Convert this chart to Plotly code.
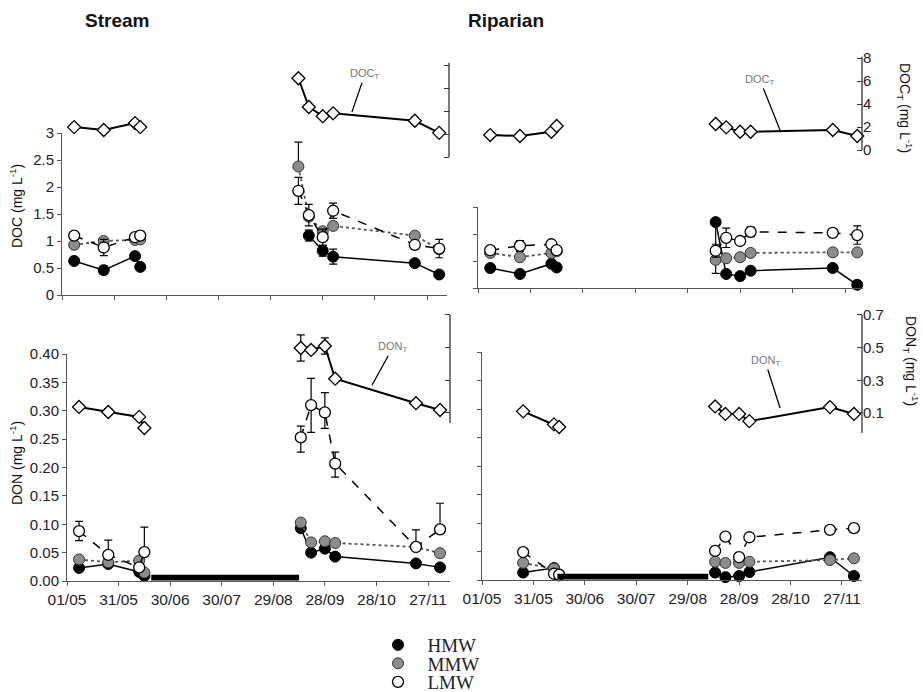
import plotly.graph_objects as go
import pandas as pd

# ---------------- data ----------------
dates = ["2008-05-08", "2008-05-25", "2008-06-12", "2008-06-15", "2008-09-14",
         "2008-09-20", "2008-09-28", "2008-10-04", "2008-11-20", "2008-12-04"]
tick_dates = ["2008-05-01", "2008-05-31", "2008-06-30", "2008-07-30",
              "2008-08-29", "2008-09-28", "2008-10-28", "2008-11-27"]
tick_text = ["01/05", "31/05", "30/06", "30/07", "29/08", "28/09", "28/10", "27/11"]

# Stream DOC (mg/L)
s_doc_hmw = [0.63, 0.46, 0.72, 0.52, None, 1.10, 0.82, 0.71, 0.59, 0.38]
s_doc_mmw = [0.93, 1.00, 1.02, 1.03, 2.38, 1.45, 1.18, 1.28, 1.10, 0.85]
s_doc_lmw = [1.10, 0.88, 1.07, 1.10, 1.93, 1.48, 1.07, 1.56, 0.93, 0.86]
s_doc_t = [2.60, 2.35, 2.95, 2.60, 6.85, 4.35, 3.55, 3.80, 3.15, 2.10]
s_doc_hmw_err = [0, 0.08, 0, 0, 0, 0.10, 0.10, 0.14, 0.05, 0]
s_doc_mmw_err = [0, 0, 0, 0, 0.45, 0, 0, 0, 0, 0]
s_doc_lmw_err = [0, 0.15, 0, 0.08, 0.25, 0.20, 0.15, 0.14, 0.05, 0.17]

# Riparian DOC (mg/L)
r_doc_hmw = [0.37, 0.26, 0.45, 0.38, 1.22, 0.26, 0.22, 0.32, 0.37, 0.06]
r_doc_mmw = [0.65, 0.57, 0.65, 0.68, 0.52, 0.55, 0.57, 0.65, 0.66, 0.66]
r_doc_lmw = [0.70, 0.78, 0.81, 0.70, 0.69, 0.93, 0.87, 1.04, 1.02, 0.98]
r_doc_t = [1.30, 1.22, 1.58, 2.09, 2.26, 1.97, 1.59, 1.59, 1.74, 1.22]
r_doc_hmw_err_minus = [0, 0, 0, 0, 0.95, 0, 0, 0, 0, 0]
r_doc_lmw_err = [0, 0.10, 0.05, 0.05, 0.12, 0.18, 0.05, 0.09, 0, 0.17]

# Stream DON (mg/L)
s_don_hmw = [0.023, 0.030, 0.016, 0.009, 0.093, 0.050, 0.057, 0.043, 0.031, 0.024]
s_don_mmw = [0.038, 0.033, 0.036, 0.015, 0.103, 0.068, 0.070, 0.067, 0.060, 0.049]
s_don_lmw = [0.088, 0.046, 0.024, 0.051, 0.253, 0.310, 0.297, 0.207, 0.060, 0.091]
s_don_t = [0.137, 0.106, 0.076, 0.008, 0.498, 0.486, 0.510, 0.310, 0.160, 0.118]
s_don_lmw_err_plus = [0.017, 0.026, 0, 0.044, 0.020, 0.047, 0.035, 0.020, 0.030, 0.046]
s_don_lmw_err_minus = [0.017, 0, 0, 0, 0.026, 0.048, 0.028, 0.024, 0, 0]
s_don_t_err = [0, 0.02, 0, 0, 0.08, 0.02, 0.05, 0, 0, 0]

# Riparian DON (mg/L)
r_don_hmw = [None, 0.013, 0.021, 0.008, 0.013, 0.005, 0.007, 0.014, 0.040, 0.007]
r_don_mmw = [None, 0.030, 0.020, 0.010, 0.032, 0.030, 0.030, 0.032, 0.035, 0.038]
r_don_lmw = [None, 0.049, 0.011, 0.009, 0.051, 0.076, 0.040, 0.075, 0.088, 0.091]
r_don_t = [None, 0.110, 0.030, 0.014, 0.140, 0.094, 0.094, 0.050, 0.136, 0.094]

# dry periods (black bars)
dry_stream = ["2008-06-19", "2008-09-13"]
dry_riparian = ["2008-06-14", "2008-09-10"]

fractions = ["HMW", "MMW", "LMW"]

# ---------------- helpers ----------------
W, H = 923, 692
def px(x): return x / W
def py(y): return 1 - y / H

START = pd.Timestamp("2008-05-01")
def end_date(days):
    return str(START + pd.Timedelta(days=days))

groups = [slice(0, 4), slice(4, 10)]

STYLE = {
    "HMW": dict(marker=dict(symbol="circle", size=11, color="black", line=dict(color="black", width=1)),
                line=dict(color="black", width=1.5, dash="solid")),
    "MMW": dict(marker=dict(symbol="circle", size=11, color="#8c8c8c", line=dict(color="#333", width=1)),
                line=dict(color="#555", width=1.8, dash="dot")),
    "LMW": dict(marker=dict(symbol="circle", size=11, color="white", line=dict(color="black", width=1.3)),
                line=dict(color="black", width=1.5, dash="dash")),
    "T": dict(marker=dict(symbol="diamond", size=10, color="white", line=dict(color="black", width=1.3)),
              line=dict(color="black", width=2, dash="solid")),
}

fig = go.Figure()

def add_series(xa, ya, vals, kind, plus=None, minus=None):
    for g in groups:
        xs = dates[g]
        ys = vals[g]
        if all(v is None for v in ys):
            continue
        kw = {}
        if plus is not None or minus is not None:
            p = (plus or [0] * len(vals))[g]
            m = (minus if minus is not None else (plus or [0] * len(vals)))[g]
            kw["error_y"] = dict(type="data", symmetric=False, array=p, arrayminus=m,
                                 color="black", thickness=1.2, width=4)
        st = STYLE[kind]
        fig.add_trace(go.Scatter(x=xs, y=ys, xaxis=xa, yaxis=ya, mode="lines+markers",
                                 marker=st["marker"], line=st["line"], showlegend=False,
                                 cliponaxis=False, **kw))

# Stream DOC
add_series("x", "y2", s_doc_t, "T")
add_series("x", "y", s_doc_hmw, "HMW", s_doc_hmw_err)
add_series("x", "y", s_doc_mmw, "MMW", s_doc_mmw_err, [0] * 10)
add_series("x", "y", s_doc_lmw, "LMW", s_doc_lmw_err)

# Riparian DOC
add_series("x2", "y4", r_doc_t, "T")
add_series("x2", "y3", r_doc_hmw, "HMW", [0] * 10, r_doc_hmw_err_minus)
add_series("x2", "y3", r_doc_mmw, "MMW")
add_series("x2", "y3", r_doc_lmw, "LMW", r_doc_lmw_err)

# Stream DON
add_series("x3", "y6", s_don_t, "T", s_don_t_err)
add_series("x3", "y5", s_don_hmw, "HMW")
add_series("x3", "y5", s_don_mmw, "MMW")
add_series("x3", "y5", s_don_lmw, "LMW", s_don_lmw_err_plus, s_don_lmw_err_minus)

# Riparian DON
add_series("x4", "y8", r_don_t, "T")
add_series("x4", "y7", r_don_hmw, "HMW")
add_series("x4", "y7", r_don_mmw, "MMW")
add_series("x4", "y7", r_don_lmw, "LMW")

# legend entries (marker only)
for i, name in enumerate(fractions):
    st = STYLE[name]
    fig.add_trace(go.Scatter(x=[None], y=[None], mode="markers", name="\u00a0\u00a0" + name,
                             marker=st["marker"], showlegend=True,
                             legend="legend" if i == 0 else f"legend{i+1}"))

AXC = "#555"
TICKFONT = dict(family="Arial, Liberation Sans, sans-serif", size=15, color="#222")

def xaxis(dom, anchor, days_end, labels):
    return dict(domain=dom, anchor=anchor, type="date",
                range=["2008-05-01", end_date(days_end)],
                tickvals=tick_dates, ticktext=tick_text, showticklabels=labels,
                ticks="outside", ticklen=4, tickcolor=AXC, showline=True, linecolor=AXC,
                linewidth=1, showgrid=False, zeroline=False, tickfont=dict(TICKFONT, size=15.5))

def yleft(dom, anchor, rng, tv, tt, labels):
    return dict(domain=dom, anchor=anchor, range=rng, tickvals=tv, ticktext=tt,
                showticklabels=labels, ticks="outside", ticklen=4, tickcolor=AXC,
                showline=True, linecolor=AXC, linewidth=1, showgrid=False, zeroline=False,
                tickfont=TICKFONT)

def yright(dom, pos, rng, tv, tt, labels):
    return dict(domain=dom, anchor="free", position=pos, side="right", range=rng,
                tickvals=tv, ticktext=tt, showticklabels=labels, ticks="inside", ticklen=5,
                tickcolor="#333", showline=False, showgrid=False, zeroline=False,
                tickfont=TICKFONT)

doc_tv = [0, 0.5, 1, 1.5, 2, 2.5, 3]
doc_tt = ["0", "0.5", "1", "1.5", "2", "2.5", "3"]
don_tv = [0, 0.05, 0.10, 0.15, 0.20, 0.25, 0.30, 0.35, 0.40]
don_tt = ["0.00", "0.05", "0.10", "0.15", "0.20", "0.25", "0.30", "0.35", "0.40"]
doct_tv = [0, 2, 4, 6, 8]
dont_tv = [0.1, 0.3, 0.5, 0.7]

fig.update_layout(
    width=W, height=H, margin=dict(l=0, r=0, t=0, b=0, autoexpand=False),
    paper_bgcolor="white", plot_bgcolor="rgba(0,0,0,0)",
    xaxis=xaxis([px(62), px(447)], "y", 221.5, False),
    yaxis=yleft([py(295), py(133)], "x", [0, 3], doc_tv, doc_tt, True),
    yaxis2=yright([py(295), py(55)], px(449), [-(295 - 157) / 11.5, (157 - 55) / 11.5],
                  doct_tv, [str(v) for v in doct_tv], False),
    xaxis2=xaxis([px(478), px(863)], "y3", 220.3, False),
    yaxis3=yleft([py(288), py(207)], "x2", [0, 1.5], [0, 0.5, 1, 1.5], None, False),
    yaxis4=yright([py(288), py(55)], px(862), [-(288 - 150) / 11.5, (150 - 55) / 11.5],
                  doct_tv, [str(v) for v in doct_tv], True),
    xaxis3=xaxis([px(67), px(450)], "y5", 222.8, True),
    yaxis5=yleft([py(581), py(354)], "x3", [0, 0.4], don_tv, don_tt, True),
    yaxis6=yright([py(581), py(305)], px(450), [-(581 - 429.3) / 163.3, (429.3 - 305) / 163.3],
                  dont_tv, [str(v) for v in dont_tv], False),
    xaxis4=xaxis([px(482), px(862)], "y7", 221.7, True),
    yaxis7=yleft([py(580), py(352)], "x4", [0, 0.4], don_tv, None, False),
    yaxis8=yright([py(580), py(305)], px(862), [-(580 - 429.3) / 163.3, (429.3 - 305) / 163.3],
                  dont_tv, [str(v) for v in dont_tv], True),
    font=dict(family="Arial, Liberation Sans, sans-serif", color="#222"),
)

# legends
LEGFONT = dict(family="Times New Roman, Liberation Serif, serif", size=19, color="#222")
for i, key in enumerate(["legend", "legend2", "legend3"]):
    fig.update_layout({key: dict(x=px(378), y=py(645 + 18.5 * i), xanchor="left", yanchor="middle",
                                 font=LEGFONT, bgcolor="rgba(0,0,0,0)", borderwidth=0,
                                 itemwidth=30, tracegroupgap=0)})

# short axis lines for the totals axes, and dry-period bars
shapes = [
    dict(type="line", xref="paper", yref="y2", x0=px(449), x1=px(449), y0=0, y1=8.2,
         line=dict(color="#333", width=1.3)),
    dict(type="line", xref="paper", yref="y4", x0=px(862), x1=px(862), y0=0, y1=8.1,
         line=dict(color="#333", width=1.3)),
    dict(type="line", xref="paper", yref="y6", x0=px(450), x1=px(450), y0=0.0386, y1=0.7,
         line=dict(color="#333", width=1.3)),
    dict(type="line", xref="paper", yref="y8", x0=px(862), x1=px(862), y0=-0.022, y1=0.7,
         line=dict(color="#333", width=1.3)),
    dict(type="rect", xref="x3", yref="y5", x0=dry_stream[0], x1=dry_stream[1], y0=0.001, y1=0.011,
         fillcolor="black", line=dict(width=0)),
    dict(type="rect", xref="x4", yref="y7", x0=dry_riparian[0], x1=dry_riparian[1], y0=0.001, y1=0.011,
         fillcolor="black", line=dict(width=0)),
]
fig.update_layout(shapes=shapes)

AF = dict(family="Arial, Liberation Sans, sans-serif", color="#111")
C = dict(xanchor="center", yanchor="middle")
ann = [
    dict(text="<b>Stream</b>", x=px(117), y=py(20), xref="paper", yref="paper", showarrow=False,
         font=dict(AF, size=19), **C),
    dict(text="<b>Riparian</b>", x=px(506), y=py(20), xref="paper", yref="paper", showarrow=False,
         font=dict(AF, size=19), **C),
    dict(text="DOC (mg L<sup>-1</sup>)", x=px(16), y=py(206), xref="paper", yref="paper",
         showarrow=False, textangle=-90, font=dict(AF, size=14), **C),
    dict(text="DON (mg L<sup>-1</sup>)", x=px(16), y=py(463), xref="paper", yref="paper",
         showarrow=False, textangle=-90, font=dict(AF, size=14), **C),
    dict(text="DOC<sub>T</sub> (mg L<sup>-1</sup>)", x=px(905), y=py(108), xref="paper", yref="paper",
         showarrow=False, textangle=90, font=dict(AF, size=14), **C),
    dict(text="DON<sub>T</sub> (mg L<sup>-1</sup>)", x=px(911), y=py(361), xref="paper", yref="paper",
         showarrow=False, textangle=90, font=dict(AF, size=14), **C),
    # series labels with pointer lines
    dict(text="DOC<sub>T</sub>", x=end_date(166.8), y=3.9, xref="x", yref="y2", ax=13, ay=-38,
         showarrow=True, arrowhead=0, arrowwidth=1.3, arrowcolor="black",
         font=dict(AF, size=11, color="#777")),
    dict(text="DOC<sub>T</sub>", x=end_date(172.8), y=1.74, xref="x2", yref="y4", ax=-20, ay=-50,
         showarrow=True, arrowhead=0, arrowwidth=1.3, arrowcolor="black",
         font=dict(AF, size=11, color="#777")),
    dict(text="DON<sub>T</sub>", x=end_date(177.4), y=0.27, xref="x3", yref="y6", ax=21, ay=-38,
         showarrow=True, arrowhead=0, arrowwidth=1.3, arrowcolor="black",
         font=dict(AF, size=11, color="#777")),
    dict(text="DON<sub>T</sub>", x=end_date(173.9), y=0.13, xref="x4", yref="y8", ax=-15, ay=-47,
         showarrow=True, arrowhead=0, arrowwidth=1.3, arrowcolor="black",
         font=dict(AF, size=11, color="#777")),
]
fig.update_layout(annotations=ann)

fig.write_html("out.html")
